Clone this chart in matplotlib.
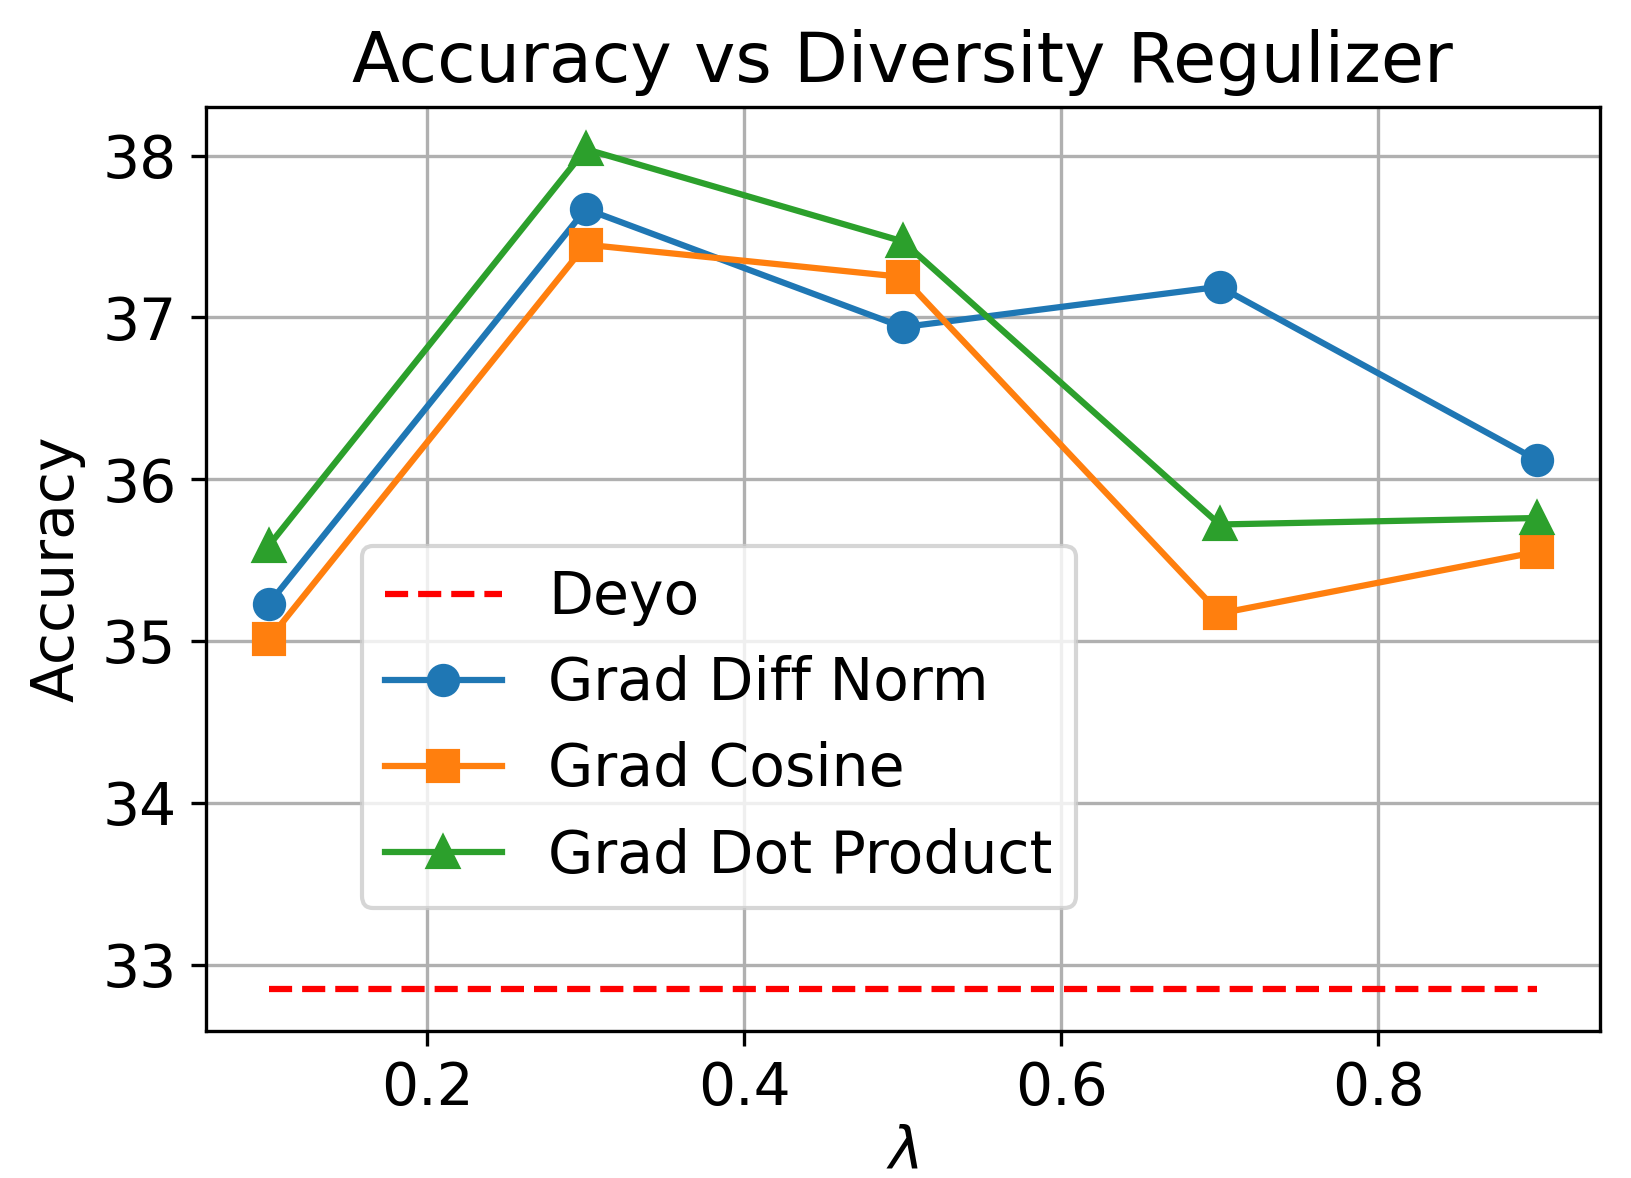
import matplotlib
matplotlib.use("Agg")
import matplotlib.pyplot as plt

plt.rcParams['font.size'] = 14

lambdas = [0.1, 0.3, 0.5, 0.7, 0.9]
deyo = [32.85, 32.85]
grad_diff_norm = [35.23, 37.67, 36.94, 37.19, 36.12]
grad_cosine = [35.01, 37.45, 37.25, 35.17, 35.55]
grad_dot = [35.59, 38.04, 37.47, 35.72, 35.76]

fig, ax = plt.subplots(figsize=(1631 / 300, 1178 / 300), dpi=300)
fig.subplots_adjust(left=0.126, right=0.981, top=0.909, bottom=0.125)

ax.plot([lambdas[0], lambdas[-1]], deyo, "r--", linewidth=1.5, label="Deyo")
ax.plot(lambdas, grad_diff_norm, marker="o", linewidth=1.5, markersize=7, label="Grad Diff Norm")
ax.plot(lambdas, grad_cosine, marker="s", linewidth=1.5, markersize=7, label="Grad Cosine")
ax.plot(lambdas, grad_dot, marker="^", linewidth=1.5, markersize=7, label="Grad Dot Product")

ax.set_title("Accuracy vs Diversity Regulizer")
ax.set_xlabel(r"$\lambda$", labelpad=1.5)
ax.set_ylabel("Accuracy")
ax.grid(True)
ax.legend(loc="lower left", bbox_to_anchor=(0.112, 0.133), borderaxespad=0)

fig.savefig("out.png", dpi=300)
